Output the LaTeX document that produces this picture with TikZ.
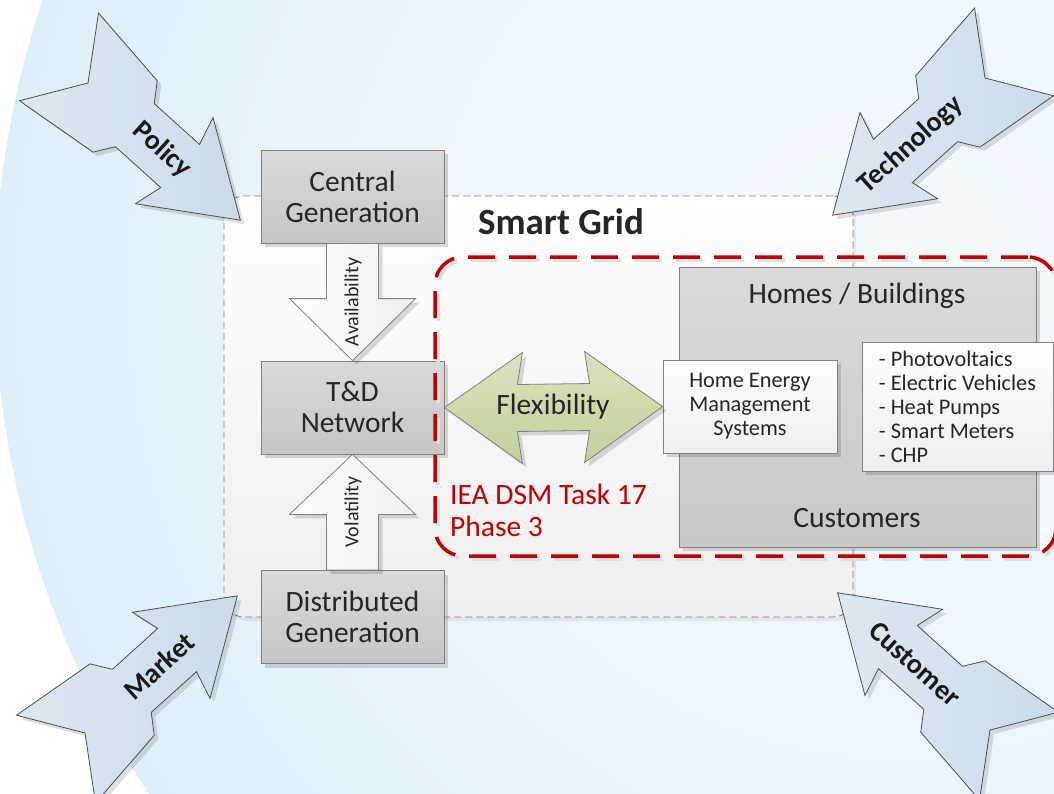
\documentclass[tikz,border=0pt]{standalone}
\usepackage{fontspec}
\setmainfont{Carlito}
\usetikzlibrary{calc,shadows}

\definecolor{txt}{HTML}{262626}
\definecolor{boxtop}{HTML}{DADADA}
\definecolor{boxbot}{HTML}{C6C6C6}
\definecolor{boxline}{HTML}{7F7F7F}
\definecolor{redd}{HTML}{C00000}
\definecolor{flextop}{HTML}{D9E3BF}
\definecolor{flexbot}{HTML}{C0D199}
\definecolor{arrtail}{HTML}{DDE7F1}
\definecolor{arrhead}{HTML}{CBDBEC}
\definecolor{arrline}{HTML}{4D4D4D}
\definecolor{sgfill}{HTML}{EFEFEF}

\pgfdeclareradialshading{bgshade}{\pgfpoint{0bp}{0bp}}{rgb(0bp)=(0.96,0.98,0.995); rgb(12bp)=(0.93,0.965,0.99); rgb(20bp)=(0.89,0.948,0.985); rgb(28bp)=(0.855,0.932,0.98); rgb(38bp)=(0.81,0.908,0.975); rgb(50bp)=(0.78,0.89,0.972)}

\tikzset{
  sh/.style={drop shadow={shadow xshift=4pt,shadow yshift=-4pt,fill=black,opacity=0.14}},
  mainfont/.style={font=\fontsize{29.5}{31}\selectfont, text=txt},
  smallfont/.style={font=\fontsize{22.3}{24}\selectfont, text=txt},
  graybox/.style={draw=boxline, line width=0.8, top color=boxtop, bottom color=boxbot,
    minimum width=183, minimum height=93, inner sep=0, align=center, mainfont, sh},
  whitebox/.style={draw=boxline, line width=0.8, top color=white, bottom color=sgfill,
    inner sep=0, smallfont, sh},
  homesbox/.style={draw=boxline, line width=0.8, top color=boxtop, bottom color=boxbot!95!white,
    minimum width=357, minimum height=280, inner sep=0, sh},
  sgbox/.style={draw=boxline, line width=0.8, dash pattern=on 7pt off 4pt, rounded corners=20,
    top color=white, bottom color=sgfill, minimum width=629, minimum height=421, inner sep=0,
    drop shadow={shadow xshift=3pt,shadow yshift=-4pt,fill=black,opacity=0.06}},
  redframe/.style={draw=redd, line width=3.5, dash pattern=on 27pt off 14pt, rounded corners=28,
    minimum width=621, minimum height=299, inner sep=0},
  redshadow/.style={redframe, draw=black!12},
  blockarrow/.style={draw=boxline, line width=0.8, left color=white, right color=sgfill, sh},
  flexarrow/.style={draw=boxline, line width=0.8, top color=flextop, bottom color=flexbot, sh},
  vlabel/.style={font=\fontsize{20}{22}\selectfont, text=txt, rotate=90, inner sep=0},
  cornerarrow/.style={draw=arrline, line width=0.8, left color=arrtail, right color=arrhead},
  arrshadow/.style={fill=black, opacity=0.12},
  cornertext/.style={font=\fontsize{28}{32}\selectfont\bfseries, text=black!90, inner sep=0},
}

\newcommand\cornerarr[3]{%
  \begin{scope}[shift={(#1+4,#2+4)},rotate=#3]
    \fill[arrshadow] (0,0) -- (-39,59) -- (50,48) -- (63,29) -- (124,29) -- (116,58) -- (205,0)
      -- (116,-58) -- (124,-29) -- (63,-29) -- (50,-48) -- (-39,-59) -- cycle;
  \end{scope}
  \begin{scope}[shift={(#1,#2)},rotate=#3]
    \draw[cornerarrow] (0,0) -- (-39,59) -- (50,48) -- (63,29) -- (124,29) -- (116,58) -- (205,0)
      -- (116,-58) -- (124,-29) -- (63,-29) -- (50,-48) -- (-39,-59) -- cycle;
  \end{scope}}

\begin{document}
\begin{tikzpicture}[x=1pt,y=-1pt]
\useasboundingbox (0,0) rectangle (1054,793);
\begin{scope}
\clip (0,0) rectangle (1054,793);
\fill[white] (0,0) rectangle (1054,793);
\shade[shading=bgshade] (895,290) circle (900);

% Smart Grid frame
\node[sgbox] (sg) at (538.5,406.5) {};
\node[font=\fontsize{37}{40}\selectfont\bfseries, text=txt, inner sep=0] (sgt) at (561,222) {Smart Grid};

% left column
\node[graybox] (cg) at (352.5,196.5) {Central\\Generation};
\node[graybox] (td) at (352.5,407.5) {T\&D\\Network};
\node[graybox] (dg) at (352.5,617) {Distributed\\Generation};

\draw[blockarrow] ($(cg.south)+(-26,0)$) -- ($(cg.south)+(26,0)$) -- ($(td.north)+(26,-62)$)
  -- ($(td.north)+(63,-62)$) -- (td.north) -- ($(td.north)+(-63,-62)$) -- ($(td.north)+(-26,-62)$) -- cycle;
\node[vlabel] (avail) at (353,302) {Availability};

\draw[blockarrow] ($(dg.north)+(-26,0)$) -- ($(dg.north)+(26,0)$) -- ($(td.south)+(26,60)$)
  -- ($(td.south)+(63,60)$) -- (td.south) -- ($(td.south)+(-63,60)$) -- ($(td.south)+(-26,60)$) -- cycle;
\node[vlabel] (vola) at (353,512) {Volatility};

% IEA task frame
\node[redshadow] (taskshadow) at (748.5,409.5) {};
\node[redframe] (task) at (745.5,406.5) {};
\node[mainfont, text=redd, anchor=base west, inner sep=0] (iea1) at (450,504) {IEA DSM Task 17};
\node[mainfont, text=redd, anchor=base west, inner sep=0] (iea2) at (450,536) {Phase 3};

% customers side
\node[homesbox] (hb) at (857.5,407) {};
\node[mainfont, inner sep=0] (hbt) at (857,296) {Homes / Buildings};
\node[mainfont, inner sep=0] (cust) at (857,518) {Customers};
\node[whitebox, minimum width=174, minimum height=93, align=center] (hems) at (750,406.5)
  {Home Energy\\Management\\Systems};
\node[whitebox, minimum width=191, minimum height=129, align=left] (list) at (957.5,406.5)
  {- Photovoltaics\\- Electric Vehicles\\- Heat Pumps\\- Smart Meters\\- CHP};

% flexibility
\draw[flexarrow] (td.east) -- ($(td.east)+(78,-55)$) -- ($(td.east)+(73,-23)$) -- ($(hems.west)+(-73,-23)$)
  -- ($(hems.west)+(-78,-55)$) -- (hems.west) -- ($(hems.west)+(-78,56)$) -- ($(hems.west)+(-73,24)$)
  -- ($(td.east)+(73,24)$) -- ($(td.east)+(78,56)$) -- cycle;
\node[mainfont, inner sep=0] (flex) at (553,407) {Flexibility};

% corner arrows
\cornerarr{88}{83}{-42}
\cornerarr{985}{78}{-138}
\cornerarr{85}{733}{42}
\cornerarr{990}{730}{138}
\node[cornertext, rotate=-42] (policy) at (162,150) {Policy};
\node[cornertext, rotate=42] (tech) at (911,145) {Technology};
\node[cornertext, rotate=42] (market) at (159,666) {Market};
\node[cornertext, rotate=-42] (custarr) at (915,664) {Customer};
\end{scope}
\end{tikzpicture}
\end{document}
